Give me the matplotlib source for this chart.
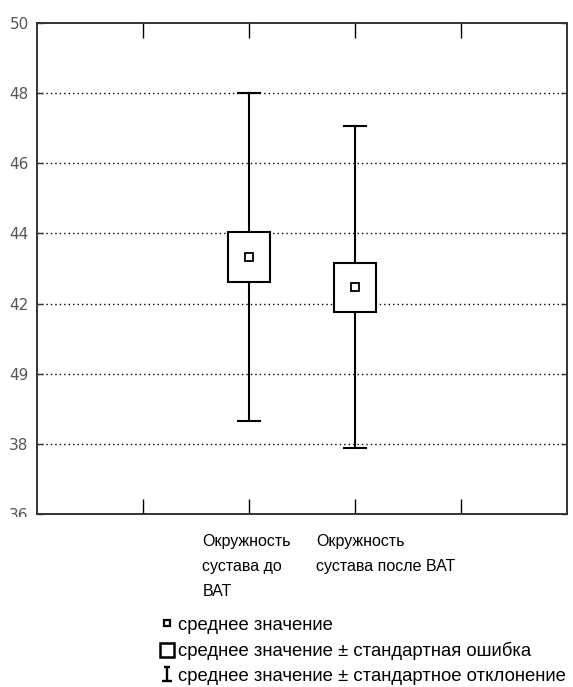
import numpy as np
import matplotlib.pyplot as plt
from matplotlib.lines import Line2D
from matplotlib.path import Path
from matplotlib.patches import Rectangle
from matplotlib.transforms import Bbox, TransformedBbox

# ---- data ----
categories = ["Окружность\nсустава до\nВАТ", "Окружность\nсустава после ВАТ"]
positions = [2, 3]
means = [43.33, 42.46]
se = [0.72, 0.71]
sd = [4.67, 4.59]

yticks = [36, 38, 40, 42, 44, 46, 48, 50]
ytick_labels = ["36", "38", "49", "42", "44", "46", "48", "50"]
xticks = [1, 2, 3, 4]

legend_labels = [
    "среднее значение",
    "среднее значение ± стандартная ошибка",
    "среднее значение ± стандартное отклонение",
]

plt.rcParams['font.family'] = ['Liberation Sans', 'DejaVu Sans']

fig = plt.figure(figsize=(5.73, 6.87), dpi=100)
ax = fig.add_axes([0.0646, 0.2518, 0.925, 0.7147])

ax.set_xlim(0, 5)
ax.set_ylim(36, 50)

# dotted grid
for y in yticks[1:-1]:
    ax.axhline(y, color='black', lw=1.0, ls=(0, (1, 2.2)), zorder=1)

box_w = 0.4
cap_w = 0.2
for x, m, e, s in zip(positions, means, se, sd):
    # whisker (sd)
    ax.plot([x, x], [m - s, m + s], color='black', lw=1.5, zorder=2)
    ax.plot([x - cap_w / 2, x + cap_w / 2], [m + s, m + s], color='black', lw=1.5, zorder=2)
    ax.plot([x - cap_w / 2, x + cap_w / 2], [m - s, m - s], color='black', lw=1.5, zorder=2)
    # box (se)
    ax.add_patch(Rectangle((x - box_w / 2, m - e), box_w, 2 * e,
                           facecolor='white', edgecolor='black', lw=1.5, zorder=3))
    # mean
    ax.plot([x], [m], marker='s', ms=6, mfc='white', mec='black', mew=1.3, zorder=4)

# axes styling
for sp in ax.spines.values():
    sp.set_color('#333333')
    sp.set_linewidth(1.4)

ax.set_yticks(yticks)
ax.set_yticklabels(ytick_labels, family='DejaVu Sans', fontsize=11, color='#555555')
ax.tick_params(axis='y', direction='in', length=4, width=1, left=True, right=True,
               pad=6, colors='#333333', labelcolor='#555555')
ax.set_xticks(xticks)
ax.set_xticklabels([])
ax.tick_params(axis='x', direction='in', length=11, width=1, top=True, bottom=True,
               colors='black')

# clip the lowest label like in the original
clip = TransformedBbox(Bbox([[0, 1 - 517 / 687], [1, 1]]), fig.transFigure)
for lbl in ax.get_yticklabels():
    lbl.set_clip_on(True)
    lbl.set_clip_box(clip)

# category labels under the axis
offsets = [-0.44, -0.365]
for x, off, txt in zip(positions, offsets, categories):
    ax.text(x + off, -0.040, txt, transform=ax.get_xaxis_transform(),
            ha='left', va='top', fontsize=11.5, linespacing=1.85)

# legend
ibeam = Path([(-0.45, 1), (0.45, 1), (0, 1), (0, -1), (-0.65, -1), (0.65, -1)],
             [Path.MOVETO, Path.LINETO, Path.MOVETO, Path.LINETO, Path.MOVETO, Path.LINETO])
handles = [
    Line2D([], [], ls='none', marker='s', ms=5, mfc='white', mec='black', mew=1.6),
    Line2D([], [], ls='none', marker='s', ms=10, mfc='white', mec='black', mew=1.8),
    Line2D([], [], ls='none', marker=ibeam, ms=10, mfc='none', mec='black', mew=1.7),
]
fig.legend(handles, legend_labels, loc='upper left', bbox_to_anchor=(0.2757, 0.102),
           frameon=False, fontsize=13.3, handlelength=1.0, handletextpad=0.1,
           labelspacing=0.42, borderpad=0, borderaxespad=0)

fig.savefig('out.png', dpi=100)
